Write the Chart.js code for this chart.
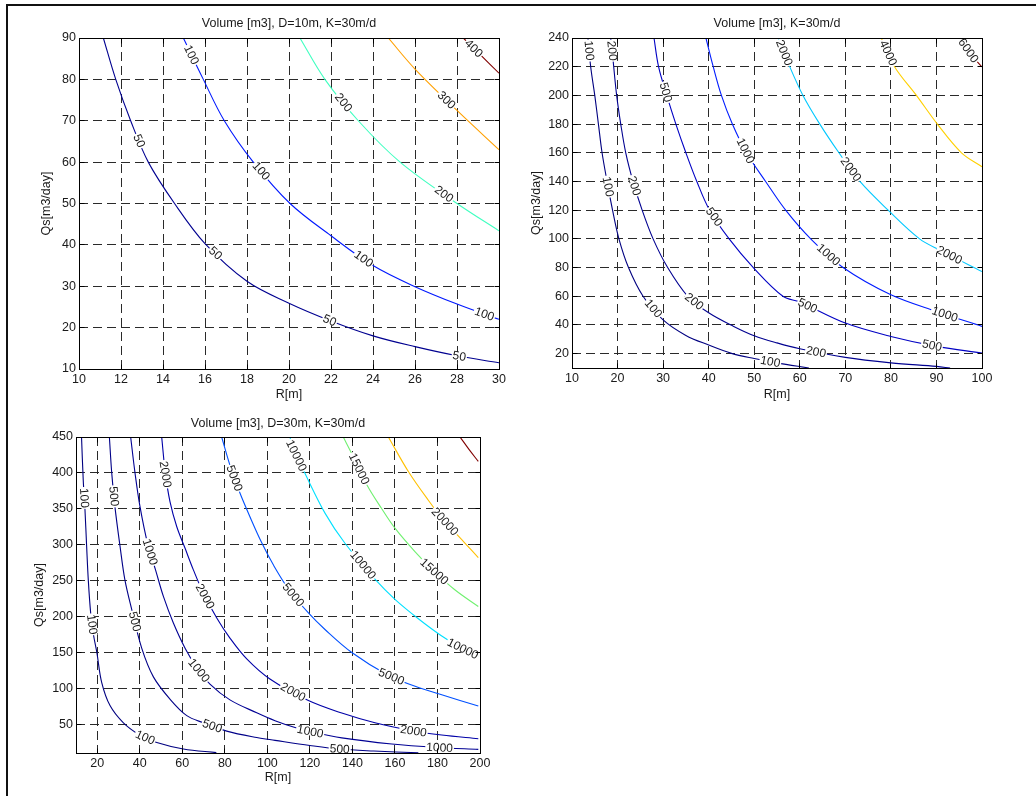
<!DOCTYPE html>
<html>
<head>
<meta charset="utf-8">
<script src="https://cdn.jsdelivr.net/npm/chart.js@4.4.1/dist/chart.umd.min.js"></script>
<style>
  body { margin: 0; background: #fff; width: 1036px; height: 796px; overflow: hidden; position: relative; }
  .frame { position: absolute; left: 6px; top: 4px; right: 0; bottom: 0; border-top: 2px solid #111; border-left: 2px solid #111; }
  canvas { position: absolute; }
  #c1 { left: 0; top: 0; }
  #c2 { left: 500px; top: 0; }
  #c3 { left: 0; top: 400px; }
</style>
</head>
<body>
<div class="frame"></div>
<canvas id="c1" width="520" height="410"></canvas>
<canvas id="c2" width="536" height="410"></canvas>
<canvas id="c3" width="520" height="396"></canvas>
<script>
// ---- top left: Volume [m3], D=10m, K=30m/d ----
const tlXTicks = [10, 12, 14, 16, 18, 20, 22, 24, 26, 28, 30];
const tlYTicks = [10, 20, 30, 40, 50, 60, 70, 80, 90];
const tlLevels = [50, 100, 200, 300, 400];
const tl50 = [[11.16,90],[11.75,80],[12.46,70],[13.3,60],[14.55,50],[16,40.3],[18,31.2],[20,25.9],[22,21.6],[24,18],[26,15.4],[28,13.2],[30,11.5]];
const tl100 = [[14.97,90],[15.92,80],[16.92,70],[18.3,60],[20.05,50],[22,42.2],[24,35],[26,29.9],[28,25.7],[30,22]];
const tl200 = [[20.52,90],[21.71,80],[23.3,70],[25.29,60],[28,50],[30,43.4]];
const tl300 = [[24.73,90],[26,82.5],[28,72.5],[30,63]];
const tl400 = [[28.3,90],[29,86.5],[30,81.5]];
const tlLabels = [[50,12.75,64.9],[50,16.5,38],[50,21.9,21.3],[50,28.1,12.8],[100,15.3,85.8],[100,18.6,57.5],[100,23.4,35.5],[100,29.3,23.2],[200,22.5,74],[200,27.2,51],[300,27.4,74.5],[400,28.8,87.5]];

// ---- top right: Volume [m3], K=30m/d ----
const trXTicks = [10, 20, 30, 40, 50, 60, 70, 80, 90, 100];
const trYTicks = [20, 40, 60, 80, 100, 120, 140, 160, 180, 200, 220, 240];
const trLevels = [100, 200, 500, 1000, 2000, 4000, 6000];
const tr100 = [[13.5,240],[14.1,220],[15.0,200],[15.8,180],[16.6,160],[17.7,140],[18.9,120],[20.3,100],[22.4,80],[25.6,60],[30,43.5],[35,32.7],[40,26],[45,20.2],[50,16.6],[55,13.6],[62,10]];
const tr200 = [[18.5,240],[19.0,225],[19.8,200],[20.7,180],[21.8,160],[23.4,140],[25.4,120],[27.8,100],[31,80],[35.4,60],[40,48.5],[45.5,39],[50,32.5],[55,27.5],[60,23.4],[70,17.4],[80,13.6],[90,11.1],[93,10]];
const tr500 = [[28,240],[29,220],[30.8,200],[32.8,180],[35,160],[37.4,140],[40.2,120],[44.5,100],[49.8,80],[56.3,60],[60,56],[70,41.3],[80,32],[90,25.1],[100,20.4]];
const tr1000 = [[39.4,240],[41,220],[42.8,200],[45.2,180],[48.3,160],[52.5,140],[56.9,120],[62.4,100],[69.5,80],[80,61],[90,49.4],[100,39]];
const tr2000 = [[55.3,240],[57.8,220],[60.7,200],[64.4,180],[68.6,160],[73.2,140],[79.4,120],[86.3,100],[91,91.8],[100,77.2]];
const tr4000 = [[77.9,240],[80.8,220],[85.6,200],[90.2,180],[95.5,160],[100,150.3]];
const tr6000 = [[95.1,240],[97.5,229],[100,219.8]];
const trLabels = [[100,12.9,231],[100,17.3,136],[100,27.5,50.5],[100,53.5,13.8],[200,18.4,231],[200,23.7,137],[200,37,57],[200,63.5,20],[500,30.4,202],[500,40.6,114],[500,61.5,52],[500,89,25.5],[1000,47.9,161],[1000,65.8,87],[1000,91.8,47],[2000,56,229],[2000,70.6,147],[2000,92.9,89],[4000,79,229],[6000,96.9,231]];

// ---- bottom left: Volume [m3], D=30m, K=30m/d ----
const blXTicks = [20, 40, 60, 80, 100, 120, 140, 160, 180, 200];
const blYTicks = [50, 100, 150, 200, 250, 300, 350, 400, 450];
const blLevels = [100, 500, 1000, 2000, 5000, 10000, 15000, 20000, 25000];
const bl100 = [[12.6,450],[13.4,390],[14.2,350],[15.0,298],[15.8,250],[16.9,205],[18.2,175],[19.8,150],[22.1,108],[26,76],[32.3,52],[40,35],[48,24.5],[60.5,15.5],[76,10.5]];
const bl500 = [[25.7,450],[26.8,400],[28.3,353],[30.7,298],[33,251],[36.2,210],[40.9,156],[46.4,116],[54.2,85],[62.1,62],[70,52],[80.9,40.5],[95,31.5],[103.6,27.6],[120,20.5],[134,15.5],[150,12.8],[171,10.3]];
const bl1000 = [[35.7,450],[37.75,400],[40.1,353],[43.8,300],[47.4,265],[51.1,228],[55.8,191],[61.3,156],[67,128],[73,106],[82.4,84],[95,66],[103.6,55],[113,45.5],[120,40],[135,31],[158.5,22.5],[180,17.7],[199.2,15]];
const bl2000 = [[50.3,450],[52,400],[54.2,360],[57.4,325],[61.3,295],[65.2,265],[70,232],[76.2,198],[82.4,170],[90.3,141],[101.2,113],[119.3,83],[135,65.6],[150.6,52],[168,41],[182,35],[199.2,29.9]];
const bl5000 = [[78.5,450],[83,405],[87.1,372],[91.8,339],[97.3,303],[102.8,272],[110,238],[119.3,205],[127.1,182],[139.7,150],[157,118],[169.5,103],[182,91],[199.2,75.5]];
const bl10000 = [[110.6,450],[113,428],[116.9,404],[127.1,344],[136.5,302],[150.6,252],[160,224],[171,197],[182,173],[191.4,156],[199.2,144.5]];
const bl15000 = [[135.7,450],[140,425],[146.7,384],[153.8,350],[160,323],[169.5,290],[178,264],[188.3,237],[199.2,214]];
const bl20000 = [[156.9,450],[166.3,402],[175.7,362],[183,334],[193,302],[199.2,282]];
const bl25000 = [[190.6,450],[195,432],[199.2,416]];
const blLabels = [[100,12.7,365],[100,17.2,189],[100,42.3,30],[500,26.6,367],[500,37.6,193],[500,74.5,51],[500,134,15],[1000,43.9,289],[1000,67.4,124],[1000,120,38],[1000,181,17],[2000,51.7,398],[2000,70.6,228],[2000,110.6,87],[2000,168.6,38],[5000,83.1,391],[5000,111.3,228],[5000,157.6,111],[10000,112.9,423],[10000,144.3,270],[10000,191.4,152],[15000,141.9,404],[15000,178,261],[20000,182.7,330]];

const FONT = "'Liberation Sans', Arial, Helvetica, sans-serif";
Chart.defaults.font.family = FONT;
Chart.defaults.color = '#1a1a1a';

function align(p) { return Math.round(p - 0.5) + 0.5; }

// MATLAB style inline contour labels
const contourLabels = {
    id: 'contourLabels',
    afterDatasetsDraw(chart, args, opts) {
        const { ctx, chartArea } = chart;
        const xs = chart.scales.x, ys = chart.scales.y;
        ctx.save();
        ctx.beginPath();
        ctx.rect(chartArea.left, chartArea.top, chartArea.width, chartArea.height);
        ctx.clip();
        ctx.font = '12px ' + FONT;
        ctx.textAlign = 'center';
        ctx.textBaseline = 'middle';
        opts.items.forEach(([level, r, q]) => {
            const di = chart.data.datasets.findIndex(d => d.level === level);
            const pts = chart.getDatasetMeta(di).data;
            const px = xs.getPixelForValue(r), py = ys.getPixelForValue(q);
            let best = null;
            for (let i = 0; i < pts.length - 1; i++) {
                const a = pts[i], b = pts[i + 1];
                const dx = b.x - a.x, dy = b.y - a.y;
                let t = ((px - a.x) * dx + (py - a.y) * dy) / (dx * dx + dy * dy);
                t = Math.max(0, Math.min(1, t));
                const cx = a.x + t * dx, cy = a.y + t * dy;
                const d = (cx - px) ** 2 + (cy - py) ** 2;
                if (!best || d < best.d) best = { d, cx, cy, ang: Math.atan2(dy, dx) };
            }
            let ang = best.ang;
            if (ang > Math.PI / 2) ang -= Math.PI;
            if (ang < -Math.PI / 2) ang += Math.PI;
            const text = String(level);
            const w = ctx.measureText(text).width;
            ctx.save();
            ctx.translate(best.cx, best.cy);
            ctx.rotate(ang);
            ctx.fillStyle = '#fff';
            ctx.fillRect(-w / 2 - 1, -4, w + 2, 8);
            ctx.fillStyle = '#1a1a1a';
            ctx.fillText(text, 0, 0.5);
            ctx.restore();
        });
        ctx.restore();
    }
};

// box round the axes with inward ticks on all four sides
const axesBox = {
    id: 'axesBox',
    afterDraw(chart) {
        const { ctx, chartArea: a } = chart;
        const xs = chart.scales.x, ys = chart.scales.y;
        const L = align(a.left), R = align(a.right), T = align(a.top), B = align(a.bottom);
        ctx.save();
        ctx.strokeStyle = '#000';
        ctx.lineWidth = 1;
        ctx.beginPath();
        xs.ticks.forEach(t => {
            const x = align(xs.getPixelForValue(t.value));
            ctx.moveTo(x, B); ctx.lineTo(x, B - 5);
            ctx.moveTo(x, T); ctx.lineTo(x, T + 5);
        });
        ys.ticks.forEach(t => {
            const y = align(ys.getPixelForValue(t.value));
            ctx.moveTo(L, y); ctx.lineTo(L + 5, y);
            ctx.moveTo(R, y); ctx.lineTo(R - 5, y);
        });
        ctx.stroke();
        ctx.strokeRect(L, T, R - L, B - T);
        ctx.restore();
    }
};

function contourSets(levels, series, colors) {
    return levels.map((lv, i) => ({
        level: lv,
        data: series[i].map(p => ({ x: p[0], y: p[1] })),
        borderColor: colors[i],
        borderWidth: 1.1,
        pointRadius: 0,
        fill: false,
        tension: 0.35
    }));
}

function makeChart(id, cfg) {
    const tickFont = { size: 12.5, lineHeight: 1.2 };
    new Chart(document.getElementById(id), {
        type: 'line',
        data: { datasets: cfg.datasets },
        options: {
            responsive: false,
            animation: false,
            events: [],
            layout: { padding: { left: 0, top: 0, bottom: 0, right: cfg.padRight } },
            scales: {
                x: {
                    type: 'linear',
                    min: cfg.xMin, max: cfg.xMax,
                    afterBuildTicks: s => { s.ticks = cfg.xTicks.map(v => ({ value: v })); },
                    afterFit: s => { s.height = cfg.xHeight; },
                    ticks: { font: tickFont, padding: cfg.xTickPad, maxRotation: 0, autoSkip: false, callback: v => String(v) },
                    grid: { color: '#2a2a2a', lineWidth: 1, drawTicks: false },
                    border: { display: false, dash: [9, 5] },
                    title: { display: true, text: 'R[m]', font: { size: 12.5, lineHeight: 1.2 }, padding: { top: 0, bottom: cfg.xTitlePad } }
                },
                y: {
                    type: 'linear',
                    min: cfg.yMin, max: cfg.yMax,
                    afterBuildTicks: s => { s.ticks = cfg.yTicks.map(v => ({ value: v })); },
                    afterFit: s => { s.width = cfg.yWidth; },
                    ticks: { font: tickFont, padding: 3, autoSkip: false, callback: v => String(v) },
                    grid: { color: '#2a2a2a', lineWidth: 1, drawTicks: false },
                    border: { display: false, dash: [9, 5] },
                    title: { display: true, text: 'Qs[m3/day]', font: { size: 12.5, lineHeight: 1.2 }, padding: { top: cfg.yTitlePad, bottom: 0 } }
                }
            },
            plugins: {
                legend: { display: false },
                tooltip: { enabled: false },
                title: {
                    display: true, text: cfg.title, fullSize: false,
                    font: { size: 12.5, weight: 'normal', lineHeight: 1.2 },
                    color: '#1a1a1a',
                    padding: { top: 16.5, bottom: cfg.titleBottom }
                },
                contourLabels: { items: cfg.labels }
            }
        },
        plugins: [contourLabels, axesBox]
    });
}

makeChart('c1', {
    title: 'Volume [m3], D=10m, K=30m/d',
    datasets: contourSets(tlLevels, [tl50, tl100, tl200, tl300, tl400],
        ['#000090', '#0018ff', '#40ffc0', '#ffa000', '#800000']),
    xMin: 10, xMax: 30, yMin: 10, yMax: 90,
    xTicks: tlXTicks, yTicks: tlYTicks, labels: tlLabels,
    padRight: 21, yWidth: 79, xHeight: 41, titleBottom: 6.5,
    yTitlePad: 39.5, xTitlePad: 7.5, xTickPad: 3
});

makeChart('c2', {
    title: 'Volume [m3], K=30m/d',
    datasets: contourSets(trLevels, [tr100, tr200, tr500, tr1000, tr2000, tr4000, tr6000],
        ['#000080', '#000090', '#0000c4', '#001cff', '#00c8ff', '#ffd000', '#800000']),
    xMin: 10, xMax: 100, yMin: 10, yMax: 240,
    xTicks: trXTicks, yTicks: trYTicks, labels: trLabels,
    padRight: 54, yWidth: 72, xHeight: 42, titleBottom: 6.5,
    yTitlePad: 29.5, xTitlePad: 7.5, xTickPad: 3
});

makeChart('c3', {
    title: 'Volume [m3], D=30m, K=30m/d',
    datasets: contourSets(blLevels, [bl100, bl500, bl1000, bl2000, bl5000, bl10000, bl15000, bl20000, bl25000],
        ['#000080', '#000088', '#000094', '#0000a8', '#0050ff', '#00e0ff', '#70f070', '#ffc000', '#800000']),
    xMin: 10, xMax: 200, yMin: 10, yMax: 450,
    xTicks: blXTicks, yTicks: blYTicks, labels: blLabels,
    padRight: 40, yWidth: 76, xHeight: 43, titleBottom: 5.5,
    yTitlePad: 32.5, xTitlePad: 11, xTickPad: 3
});
</script>
</body>
</html>
